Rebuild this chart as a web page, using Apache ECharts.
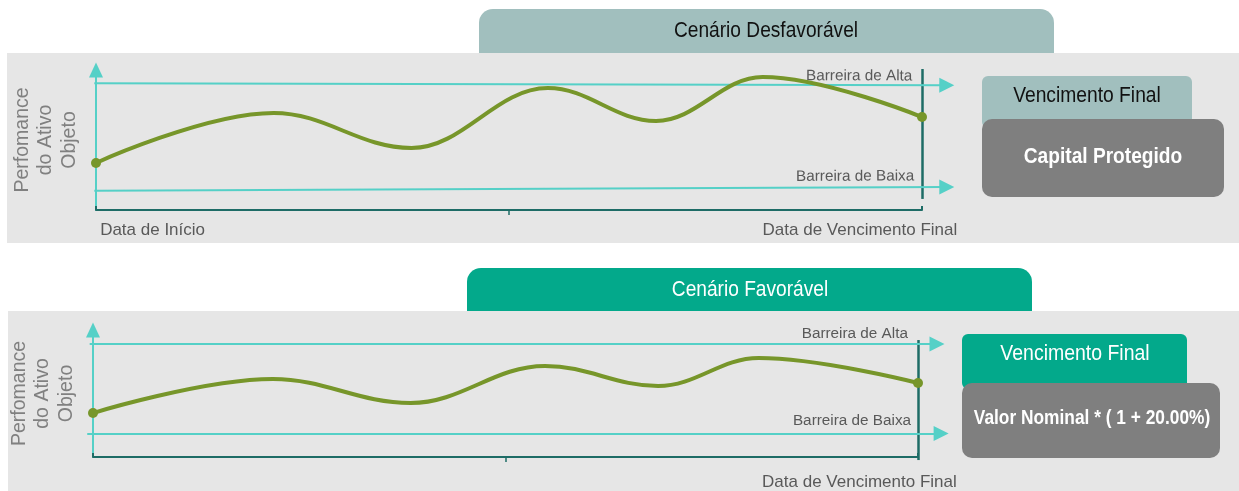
<!DOCTYPE html>
<html><head><meta charset="utf-8">
<script src="https://cdn.jsdelivr.net/npm/echarts@6/dist/echarts.min.js"></script>
<style>html,body{margin:0;padding:0;background:#fff}#c{width:1239px;height:491px}</style>
</head><body><div id="c"></div>
<script>
// ---- texts ----
const xLabels = ['Data de Início', 'Data de Vencimento Final'];
const yName = 'Perfomance\ndo Ativo\nObjeto';
const barrierNames = ['Barreira de Alta', 'Barreira de Baixa'];
const titles = ['Cenário Desfavorável', 'Cenário Favorável'];
const boxTitle = 'Vencimento Final';
const outcomes = ['Capital Protegido', 'Valor Nominal * ( 1 + 20.00%)'];

// ---- panel 1 (Cenário Desfavorável) ----
const path1 = [[0, 33.6], [21.5, 69.3], [38.2, 44.3], [54.7, 87.1], [67.8, 63.6], [80.7, 95.0], [100, 66.4]];
const upper1 = [[-0.2, 90.5], [103.0, 89.1]];
const lower1 = [[-0.2, 13.8], [103.0, 16.4]];
const final1 = [[100, 7.9], [100, 100.7]];

// ---- panel 2 (Cenário Favorável) ----
const path2 = [[0, 34.6], [21.8, 61.4], [38.5, 42.5], [54.8, 71.7], [68.5, 55.9], [80.7, 78.0], [100, 58.3]];
const upper2 = [[-0.4, 89.0], [102.3, 89.0]];
const lower2 = [[-0.7, 18.5], [102.8, 18.5]];
const final2 = [[100, -2.4], [100, 92.1]];

const SANS = "'Liberation Sans',Arial,sans-serif";
const TEAL = '#55d0c7';
const DARK = '#1e6c66';
const OLIVE = '#77962a';

function grid(left, right, top, bottom) {
  return { left, right, top, bottom, containLabel: false, outerBoundsMode: 'none' };
}
function xAxes(gi, labelVals, margin) {
  return [
    { type: 'value', gridIndex: gi, min: 0, max: 100, interval: 50,
      axisLine: { show: true, lineStyle: { color: DARK, width: 2 } },
      axisTick: { show: true, customValues: [50], length: 5, lineStyle: { color: DARK, width: 1.5 } },
      splitLine: { show: false },
      axisLabel: { show: true, customValues: labelVals, align: 'left', margin: margin,
        formatter: (v) => xLabels[labelVals.indexOf(v)] || '',
        color: '#595959', fontSize: 17, fontFamily: SANS, hideOverlap: false } },
    { type: 'value', gridIndex: gi, min: 0, max: 100, position: 'bottom',
      axisLine: { show: false },
      axisTick: { show: true, inside: true, customValues: [0, 100], length: 4, lineStyle: { color: DARK, width: 2 } },
      splitLine: { show: false }, axisLabel: { show: false } }
  ];
}
function yAxis(gi) {
  return { type: 'value', gridIndex: gi, min: 0, max: 100,
    name: yName, nameLocation: 'middle', nameRotate: 90, nameGap: 15,
    nameTextStyle: { color: '#808080', fontSize: 19.5, lineHeight: 23.5, fontFamily: SANS, align: 'center' },
    axisLine: { show: true, symbol: ['none', 'triangle'], symbolSize: [14, 15], lineStyle: { color: TEAL, width: 2 } },
    axisTick: { show: false }, axisLabel: { show: false }, splitLine: { show: false } };
}
function barrier(coords, xi, yi, name, dist) {
  return { type: 'lines', coordinateSystem: 'cartesian2d', xAxisIndex: xi, yAxisIndex: yi,
    clip: false, silent: true, z: 3,
    symbol: ['none', 'triangle'], symbolSize: 15,
    lineStyle: { color: TEAL, width: 2, opacity: 1, curveness: 0 },
    label: { show: true, position: 'insideEndTop', distance: dist, formatter: name,
      color: '#595959', fontSize: 15.3, fontFamily: SANS },
    data: [{ coords: coords }] };
}
function finalLine(coords, xi, yi) {
  return { type: 'lines', coordinateSystem: 'cartesian2d', xAxisIndex: xi, yAxisIndex: yi,
    clip: false, silent: true, z: 2, symbol: 'none',
    lineStyle: { color: DARK, width: 2.5, opacity: 1, curveness: 0 },
    data: [{ coords: coords }] };
}
function curve(data, xi, yi) {
  return { type: 'line', xAxisIndex: xi, yAxisIndex: yi, clip: false, z: 4,
    smooth: 0.38, smoothMonotone: 'x',
    symbol: 'circle',
    symbolSize: (v, p) => (p.dataIndex === 0 || p.dataIndex === data.length - 1) ? 10 : 0,
    itemStyle: { color: OLIVE },
    lineStyle: { color: OLIVE, width: 4 },
    data: data };
}
function label(x, y, text, fill, size, sx, bold) {
  return { type: 'text', z: 10, x: x, y: y, scaleX: sx,
    style: { text: text, fill: fill, fontSize: size, fontWeight: bold ? 'bold' : 'normal', fontFamily: SANS, align: 'center', verticalAlign: 'middle' } };
}

const option = {
  animation: false,
  backgroundColor: '#ffffff',
  grid: [grid(96, 1239 - 922, 70, 491 - 210), grid(93, 1239 - 918, 330, 491 - 457)],
  xAxis: [...xAxes(0, [0.5, 80.7], 12), ...xAxes(1, [-0.1, 81.1], 17)],
  yAxis: [yAxis(0), yAxis(1)],
  series: [
    finalLine(final1, 0, 0),
    barrier(upper1, 0, 0, barrierNames[0], [34.5, 1.5]),
    barrier(lower1, 0, 0, barrierNames[1], [32.5, 3.5]),
    curve(path1, 0, 0),
    finalLine(final2, 2, 1),
    barrier(upper2, 2, 1, barrierNames[0], [29, 2.5]),
    barrier(lower2, 2, 1, barrierNames[1], [30, 5.5]),
    curve(path2, 2, 1)
  ],
  graphic: { elements: [
    { type: 'rect', z: -10, shape: { x: 7, y: 53, width: 1232, height: 190 }, style: { fill: '#e6e6e6' } },
    { type: 'rect', z: -10, shape: { x: 8, y: 311, width: 1231, height: 180 }, style: { fill: '#e6e6e6' } },
    { type: 'rect', z: -9, shape: { x: 479, y: 9, width: 575, height: 44, r: [14, 14, 0, 0] }, style: { fill: '#a1bfbe' } },
    label(766, 31, titles[0], '#111', 22, 0.87),
    { type: 'rect', z: -9, shape: { x: 467, y: 268, width: 565, height: 43, r: [14, 14, 0, 0] }, style: { fill: '#03a98b' } },
    label(750, 290, titles[1], '#fff', 22, 0.87),

    { type: 'rect', z: 5, shape: { x: 982, y: 76, width: 210, height: 52, r: 6 }, style: { fill: '#a1bfbe' } },
    label(1087, 96, boxTitle, '#111', 22, 0.875),
    { type: 'rect', z: 7, shape: { x: 982, y: 119, width: 242, height: 78, r: 10 }, style: { fill: '#7f7f7f' } },
    label(1103, 157, outcomes[0], '#fff', 22, 0.87, true),

    { type: 'rect', z: 5, shape: { x: 962, y: 334, width: 225, height: 55, r: 6 }, style: { fill: '#03a98b' } },
    label(1075, 354, boxTitle, '#fff', 22, 0.885),
    { type: 'rect', z: 7, shape: { x: 962, y: 383, width: 258, height: 75, r: 10 }, style: { fill: '#7f7f7f' } },
    label(1092, 418, outcomes[1], '#fff', 21, 0.825, true)
  ] }
};
const chart = echarts.init(document.getElementById('c'), null, { renderer: 'canvas' });
chart.setOption(option);
</script></body></html>
